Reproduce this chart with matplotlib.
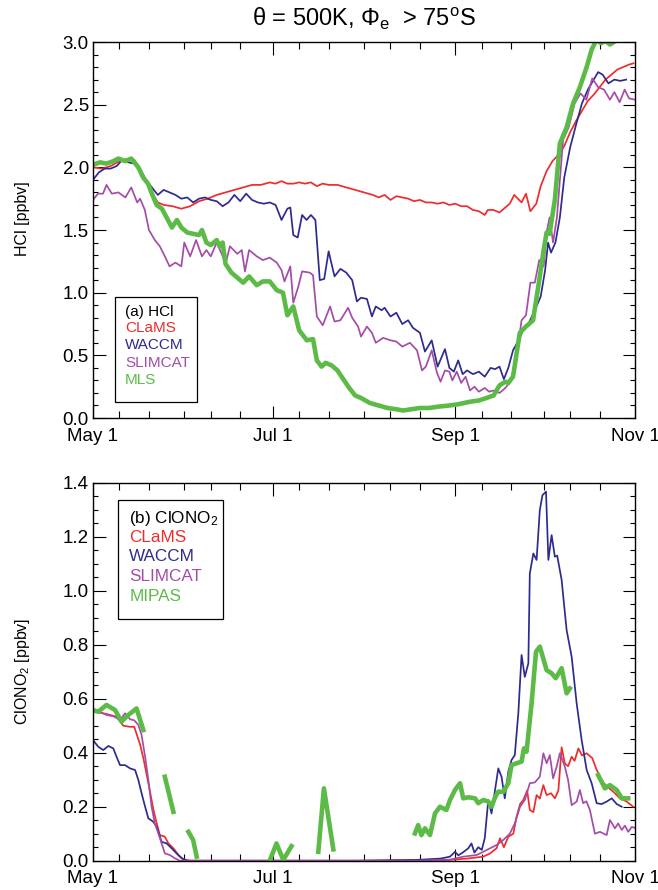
import numpy as np
import matplotlib
matplotlib.use('Agg')
import matplotlib.pyplot as plt
from matplotlib.ticker import FixedLocator, MultipleLocator, FormatStrFormatter
from matplotlib.patches import Rectangle

plt.rcParams['font.family'] = ['Liberation Sans', 'DejaVu Sans']
plt.rcParams['mathtext.fontset'] = 'custom'
plt.rcParams['mathtext.rm'] = 'Liberation Sans'
plt.rcParams['mathtext.it'] = 'Liberation Sans:italic'
plt.rcParams['mathtext.bf'] = 'Liberation Sans:bold'

# days since May 1
tick_days = [0, 61, 123, 184]
tick_labels = ['May 1', 'Jul 1', 'Sep 1', 'Nov 1']
minor_days = [9, 19, 31, 40, 50, 70, 80, 92, 101, 111, 132, 142, 153, 162, 172]

# ---- (a) HCl ----
hcl_clams_day = [0, 3, 6, 9, 12, 14, 16, 18, 20, 22,
                 24, 27, 30, 33, 36, 39, 42, 45, 48, 51,
                 54, 57, 60, 62, 64, 66, 68, 70, 72, 74,
                 76, 78, 80, 83, 86, 89, 92, 95, 97, 99,
                 101, 103, 105, 107, 109, 111, 113, 115, 117, 119,
                 121, 123, 125, 127, 129, 131, 133, 134, 136, 138,
                 140, 141.5, 143, 145.5, 147, 148.5, 150.5, 152, 154, 156,
                 158, 160, 162, 164, 166, 168, 170, 172, 174, 176,
                 178, 180, 182, 183.5]
hcl_clams = [2.00, 1.99, 2.01, 2.05, 2.07, 2.06, 1.99, 1.90, 1.80, 1.72,
             1.70, 1.69, 1.67, 1.69, 1.73, 1.75, 1.78, 1.80, 1.82, 1.84,
             1.86, 1.86, 1.88, 1.87, 1.89, 1.87, 1.87, 1.88, 1.87, 1.88,
             1.85, 1.87, 1.86, 1.86, 1.84, 1.82, 1.80, 1.78, 1.76, 1.78,
             1.74, 1.77, 1.76, 1.75, 1.73, 1.74, 1.72, 1.72, 1.71, 1.72,
             1.70, 1.71, 1.69, 1.69, 1.66, 1.65, 1.62, 1.66, 1.66, 1.64,
             1.68, 1.71, 1.78, 1.72, 1.79, 1.65, 1.71, 1.85, 1.97, 2.05,
             2.10, 2.17, 2.28, 2.37, 2.45, 2.53, 2.58, 2.64, 2.70, 2.74,
             2.78, 2.80, 2.82, 2.83]

hcl_waccm_day = [0, 2, 4, 6, 8, 10, 12, 14, 16, 18,
                 20, 22, 24, 26, 28, 30, 32, 34, 36, 38,
                 40, 42, 44, 46, 48, 50, 52, 54, 56, 58,
                 60, 62, 64, 66, 67, 68, 69.5, 71, 72.5, 74,
                 75.5, 77, 78.5, 80, 82, 84, 86, 88, 89.6, 91,
                 93, 94.7, 96, 98, 99, 101, 103, 105, 107, 108.6,
                 111, 112.7, 115, 117, 119.5, 121, 122.5, 124, 125.5, 127,
                 129, 131, 133, 135, 136.5, 138, 139.5, 141, 142.6, 144.5,
                 146, 148, 150, 152, 153.5, 154.5, 155.5, 157, 158.5, 160,
                 162, 164, 166, 168, 170, 171.5, 173, 175, 177, 179,
                 181]
hcl_waccm = [1.90, 1.96, 1.99, 1.99, 2.01, 2.06, 2.04, 2.03, 1.97, 1.90,
             1.84, 1.78, 1.82, 1.80, 1.78, 1.75, 1.76, 1.72, 1.75, 1.76,
             1.74, 1.73, 1.69, 1.72, 1.78, 1.73, 1.79, 1.74, 1.72, 1.71,
             1.72, 1.70, 1.58, 1.67, 1.68, 1.46, 1.44, 1.62, 1.58, 1.62,
             1.58, 1.10, 1.11, 1.33, 1.13, 1.19, 1.16, 1.10, 0.93, 0.96,
             0.95, 0.81, 0.89, 0.86, 0.88, 0.81, 0.84, 0.75, 0.78, 0.72,
             0.68, 0.53, 0.62, 0.41, 0.55, 0.40, 0.37, 0.46, 0.35, 0.38,
             0.35, 0.37, 0.33, 0.40, 0.39, 0.41, 0.31, 0.40, 0.54, 0.62,
             0.70, 0.76, 0.86, 0.97, 1.18, 1.40, 1.32, 1.40, 1.60, 1.92,
             2.16, 2.34, 2.51, 2.62, 2.70, 2.76, 2.74, 2.67, 2.70, 2.69,
             2.70]

hcl_slimcat_day = [0, 1.7, 3.4, 4.6, 6.4, 8.6, 11, 13, 15, 16,
                   17.6, 19, 21, 22.7, 24.4, 26, 28, 30, 31, 33,
                   35, 37, 38.5, 40, 42, 43.7, 45, 46.5, 49, 50.5,
                   51.6, 53, 55.6, 57.7, 60, 62.4, 64, 65, 67, 68,
                   69.6, 71, 73.6, 74.7, 76, 78, 80.5, 82, 84, 86.6,
                   88, 90, 91, 93, 94.7, 96, 98.5, 101, 103, 105,
                   107.6, 110, 111.7, 113, 115, 116.8, 118, 119.5, 121, 122,
                   123.5, 125, 126.5, 128, 129.5, 131, 133, 134.5, 136, 138,
                   140, 142, 143.8, 145.5, 147, 148.5, 150, 151.5, 153, 154,
                   155, 156.2, 157.5, 159.6, 161.5, 163.5, 165.5, 167.5, 169.5, 171.5,
                   173.5, 175.5, 177, 178.8, 180.5, 182, 184]
hcl_slimcat = [1.74, 1.79, 1.79, 1.86, 1.79, 1.80, 1.76, 1.84, 1.72, 1.75,
               1.66, 1.50, 1.42, 1.37, 1.29, 1.21, 1.24, 1.21, 1.40, 1.29,
               1.42, 1.29, 1.34, 1.29, 1.40, 1.31, 1.23, 1.37, 1.31, 1.34,
               1.17, 1.34, 1.29, 1.26, 1.28, 1.24, 1.18, 1.09, 1.21, 0.92,
               1.04, 1.17, 1.16, 1.14, 0.81, 0.74, 0.89, 0.77, 0.78, 0.88,
               0.80, 0.73, 0.65, 0.73, 0.68, 0.60, 0.64, 0.62, 0.61, 0.57,
               0.60, 0.54, 0.38, 0.41, 0.54, 0.36, 0.29, 0.38, 0.37, 0.30,
               0.37, 0.28, 0.33, 0.22, 0.25, 0.21, 0.24, 0.21, 0.22, 0.20,
               0.24, 0.30, 0.49, 0.78, 0.82, 1.08, 1.08, 1.26, 1.21, 1.48,
               1.60, 1.40, 1.60, 2.22, 2.32, 2.51, 2.59, 2.54, 2.71, 2.64,
               2.62, 2.54, 2.60, 2.52, 2.62, 2.55, 2.54]

hcl_mls_day = [0, 2.4, 4.6, 7, 8.6, 11, 13, 15.4, 17, 18.7,
               20, 21.6, 23.4, 25, 26.8, 28.5, 30, 32, 34, 36,
               37, 38.5, 40, 42, 43, 44, 45, 47, 49, 51,
               53, 55.6, 57.7, 60, 62.4, 64.5, 66, 68, 70, 72.6,
               74.7, 76, 77.6, 79, 81, 83, 84.4, 87, 89, 91,
               94, 97, 100, 103, 105.3, 108, 111, 114, 117, 121,
               124, 128, 131, 133.6, 136, 138, 140, 141, 142.6, 144.9,
               147, 149.4, 151.7, 153, 154, 155, 156.8, 158.5, 160.8, 163,
               165.3, 167.6, 169.3, 171, 172.5, 174, 175.5, 177.5]
hcl_mls = [2.02, 2.04, 2.03, 2.05, 2.07, 2.05, 2.07, 2.00, 1.92, 1.87,
           1.79, 1.70, 1.67, 1.60, 1.52, 1.58, 1.52, 1.48, 1.47, 1.46,
           1.50, 1.40, 1.38, 1.42, 1.37, 1.40, 1.23, 1.16, 1.12, 1.08,
           1.13, 1.06, 1.09, 1.09, 1.02, 1.00, 0.82, 0.89, 0.70, 0.62,
           0.63, 0.46, 0.41, 0.44, 0.42, 0.38, 0.33, 0.24, 0.18, 0.16,
           0.12, 0.10, 0.08, 0.07, 0.06, 0.07, 0.08, 0.08, 0.09, 0.10,
           0.11, 0.13, 0.14, 0.16, 0.18, 0.26, 0.29, 0.28, 0.33, 0.68,
           0.73, 0.78, 1.13, 1.34, 1.48, 1.47, 1.74, 2.19, 2.32, 2.51,
           2.64, 2.80, 2.94, 3.02, 2.99, 3.01, 2.98, 3.01]

# ---- (b) ClONO2 ----
cl_clams_day = [0, 3.5, 5.8, 8, 10.3, 12.6, 14, 14.8, 16, 17.1,
                18.2, 19.3, 20.5, 21.6, 22.7, 24.4, 25.6, 27.3, 29, 30.7,
                33, 60, 90, 110, 121, 127, 132.5, 134.8, 137, 138.2,
                139.5, 141, 142.7, 143.8, 145, 146.1, 147.4, 148.3, 149.5, 150.6,
                151.7, 152.9, 154, 155.5, 156.8, 158, 159.1, 160.2, 161.3, 162.5,
                163.5, 164.8, 166, 167.6, 169.5, 171, 173.2, 175, 176.6, 178.9,
                181.2, 183.4]
cl_clams = [0.552, 0.546, 0.54, 0.533, 0.50, 0.496, 0.496, 0.47, 0.43, 0.38,
            0.32, 0.26, 0.19, 0.14, 0.095, 0.089, 0.064, 0.046, 0.021, 0.005,
            0.0, 0.0, 0.0, 0.002, 0.003, 0.008, 0.015, 0.027, 0.046, 0.083,
            0.05, 0.089, 0.10, 0.163, 0.21, 0.225, 0.26, 0.188, 0.18, 0.243,
            0.23, 0.28, 0.243, 0.25, 0.231, 0.26, 0.42, 0.36, 0.35, 0.385,
            0.37, 0.416, 0.39, 0.398, 0.38, 0.336, 0.29, 0.27, 0.256, 0.231,
            0.219, 0.2]

cl_waccm_day = [0, 1.8, 3.5, 5.2, 6.9, 8, 9.2, 10.9, 12.6, 14.3,
                15.4, 16.5, 17.7, 18.8, 20.5, 21.6, 23.3, 25, 26.7, 28.4,
                30.1, 32, 60, 90, 110, 118, 121.2, 122.9, 124, 125.5,
                127.4, 128.5, 129.5, 130.8, 132, 133, 134.2, 135.3, 136.5, 137.6,
                138.7, 139.8, 141, 142.1, 143.2, 144.4, 145.5, 146.6, 147.8, 148.3,
                149.5, 150.6, 151.7, 152.6, 153.8, 154.6, 155.7, 156.8, 157.6, 159.1,
                160.8, 162.5, 164.2, 165.9, 167.6, 169.3, 171, 172.7, 174.4, 176.1,
                177.8, 179.5]
cl_waccm = [0.447, 0.422, 0.41, 0.425, 0.416, 0.385, 0.354, 0.354, 0.342, 0.336,
            0.299, 0.25, 0.20, 0.157, 0.144, 0.126, 0.07, 0.064, 0.046, 0.027,
            0.009, 0.0, 0.0, 0.0, 0.003, 0.008, 0.015, 0.033, 0.02, 0.03,
            0.046, 0.064, 0.03, 0.05, 0.04, 0.083, 0.225, 0.175, 0.262, 0.342,
            0.311, 0.231, 0.33, 0.373, 0.391, 0.546, 0.762, 0.681, 0.731, 1.064,
            1.138, 1.114, 1.299, 1.354, 1.367, 1.114, 1.206, 1.126, 1.13, 1.04,
            0.854, 0.756, 0.583, 0.447, 0.336, 0.287, 0.213, 0.21, 0.219, 0.231,
            0.21, 0.2]

cl_slimcat_day = [0, 2.5, 4.6, 7, 9.2, 10.9, 12.6, 14, 15.4, 16.5,
                  17.7, 18.8, 19.9, 21, 22.2, 23.3, 24.4, 26.1, 27.8, 29.5,
                  60, 90, 110, 121.2, 125.7, 130.2, 132.5, 134.8, 137, 139.3,
                  141.5, 143.2, 145, 146.6, 148.3, 150, 151.7, 152.9, 154, 155.1,
                  156.2, 157.4, 158.5, 160.2, 161.3, 162.5, 164.2, 165.3, 166.4, 167.5,
                  168.7, 170.4, 172.1, 174.4, 175.5, 177.2, 178.3, 179.5, 180.6, 181.7,
                  182.9, 184.5]
cl_slimcat = [0.558, 0.55, 0.54, 0.535, 0.521, 0.546, 0.524, 0.52, 0.503, 0.466,
              0.385, 0.299, 0.20, 0.138, 0.101, 0.064, 0.027, 0.021, 0.009, 0.0,
              0.0, 0.0, 0.0, 0.004, 0.015, 0.021, 0.033, 0.046, 0.058, 0.077,
              0.10, 0.138, 0.20, 0.225, 0.287, 0.29, 0.311, 0.398, 0.361, 0.391,
              0.305, 0.348, 0.398, 0.348, 0.299, 0.206, 0.219, 0.262, 0.213, 0.22,
              0.188, 0.10, 0.107, 0.095, 0.151, 0.12, 0.138, 0.114, 0.13, 0.107,
              0.125, 0.12]

# MIPAS has data gaps (nan)
cl_mipas_day = [0.1, 1.8, 4.6, 7.5, 9.7, 12, 14.8, 17.1, 20,
                24.4, 27.3, 30,
                32.4, 34, 35.2, 45,
                60.1, 62.3, 64.6, 67.4, 72,
                76.5, 78.4, 81.6, 95,
                109.3, 110.4, 111.5, 112.7, 114.4, 116.1, 117.8, 120, 121.2, 122.9,
                124.6, 125.7, 127.5, 129.7, 130.8, 132.5, 134.2, 135.3, 136.5, 137.6,
                139.3, 141, 142.1, 143.8, 145.5, 146.3, 147.2, 148.9, 150.4, 151.7,
                154, 155.7, 157.1, 159.1, 160.8, 161.9, 166,
                171.5, 173.8, 175.5, 177.8, 179.5, 181.7]
cl_mipas = [0.558, 0.552, 0.577, 0.558, 0.515, 0.54, 0.564, 0.484, np.nan,
            0.311, 0.181, np.nan,
            0.107, 0.077, 0.015, np.nan,
            0.003, 0.064, 0.003, 0.054, np.nan,
            0.033, 0.268, 0.042, np.nan,
            0.101, 0.132, 0.095, 0.12, 0.095, 0.175, 0.20, 0.188, 0.225, 0.262,
            0.287, 0.231, 0.235, 0.231, 0.213, 0.225, 0.219, 0.20, 0.235, 0.256,
            0.255, 0.287, 0.354, 0.361, 0.367, 0.416, 0.404, 0.583, 0.774, 0.793,
            0.706, 0.694, 0.676, 0.713, 0.62, 0.638, np.nan,
            0.317, 0.268, 0.28, 0.262, 0.231, 0.231]

c_red = '#EE2C2C'
c_navy = '#2E2B8F'
c_purple = '#A34DA8'
c_green = '#5CBB47'


def style_axes(ax, ymax, ymajor, yminor):
    ax.set_xlim(0, 184)
    ax.set_ylim(0, ymax)
    ax.xaxis.set_major_locator(FixedLocator(tick_days))
    ax.set_xticklabels(tick_labels)
    ax.xaxis.set_minor_locator(FixedLocator(minor_days))
    ax.yaxis.set_major_locator(MultipleLocator(ymajor))
    ax.yaxis.set_minor_locator(MultipleLocator(yminor))
    ax.yaxis.set_major_formatter(FormatStrFormatter('%.1f'))
    ax.tick_params(which='both', direction='in', top=True, right=True,
                   width=0.8, labelsize=13.5)
    ax.tick_params(which='major', length=9)
    ax.tick_params(axis='x', which='minor', length=5)
    ax.tick_params(axis='y', which='minor', length=3.5)
    ax.tick_params(axis='x', pad=7)
    ax.tick_params(axis='y', pad=3)
    for s in ax.spines.values():
        s.set_linewidth(1.0)


def legend_box(ax, x0, y0, x1, y1, tx, ty, labels, colors, size):
    ax.add_patch(Rectangle((x0, y0), x1 - x0, y1 - y0, transform=ax.transAxes,
                           fill=False, ec='black', lw=0.9, zorder=5))
    for yy, lab, col in zip(ty, labels, colors):
        ax.text(tx, yy, lab, transform=ax.transAxes, color=col, fontsize=size,
                ha='left', va='center', zorder=6)


fig = plt.figure(figsize=(6.58, 8.9), dpi=100)
ax1 = fig.add_axes([0.1413, 0.5303, 0.8237, 0.4225])
ax2 = fig.add_axes([0.1413, 0.0329, 0.8237, 0.4247])

ax1.plot(hcl_clams_day, hcl_clams, color=c_red, lw=1.25)
ax1.plot(hcl_waccm_day, hcl_waccm, color=c_navy, lw=1.25)
ax1.plot(hcl_slimcat_day, hcl_slimcat, color=c_purple, lw=1.25)
ax1.plot(hcl_mls_day, hcl_mls, color=c_green, lw=3.3)
style_axes(ax1, 3.0, 0.5, 0.1)
ax1.set_ylabel('HCl [ppbv]', fontsize=11.5)
ax1.yaxis.set_label_coords(-0.117, 0.529)
legend_box(ax1, 0.041, 0.043, 0.192, 0.322, 0.059,
           [0.283, 0.239, 0.194, 0.147, 0.101],
           ['(a) HCl', 'CLaMS', 'WACCM', 'SLIMCAT', 'MLS'],
           ['black', c_red, c_navy, c_purple, c_green], 11)

ax2.plot(cl_clams_day, cl_clams, color=c_red, lw=1.25)
ax2.plot(cl_waccm_day, cl_waccm, color=c_navy, lw=1.25)
ax2.plot(cl_slimcat_day, cl_slimcat, color=c_purple, lw=1.25)
ax2.plot(cl_mipas_day, cl_mipas, color=c_green, lw=3.3)
style_axes(ax2, 1.4, 0.2, 0.05)
ax2.set_ylabel('ClONO$_2$ [ppbv]', fontsize=11.5)
ax2.yaxis.set_label_coords(-0.113, 0.502)
legend_box(ax2, 0.047, 0.639, 0.240, 0.954, 0.067,
           [0.906, 0.854, 0.804, 0.751, 0.700],
           ['(b) ClONO$_2$', 'CLaMS', 'WACCM', 'SLIMCAT', 'MIPAS'],
           ['black', c_red, c_navy, c_purple, c_green], 12.3)

fig.text(0.553, 0.979, r'θ = 500K, Φ$_{\rm e}$  > 75$^{\rm o}$S',
         ha='center', va='center', fontsize=17)

fig.savefig('out.png', dpi=100)
